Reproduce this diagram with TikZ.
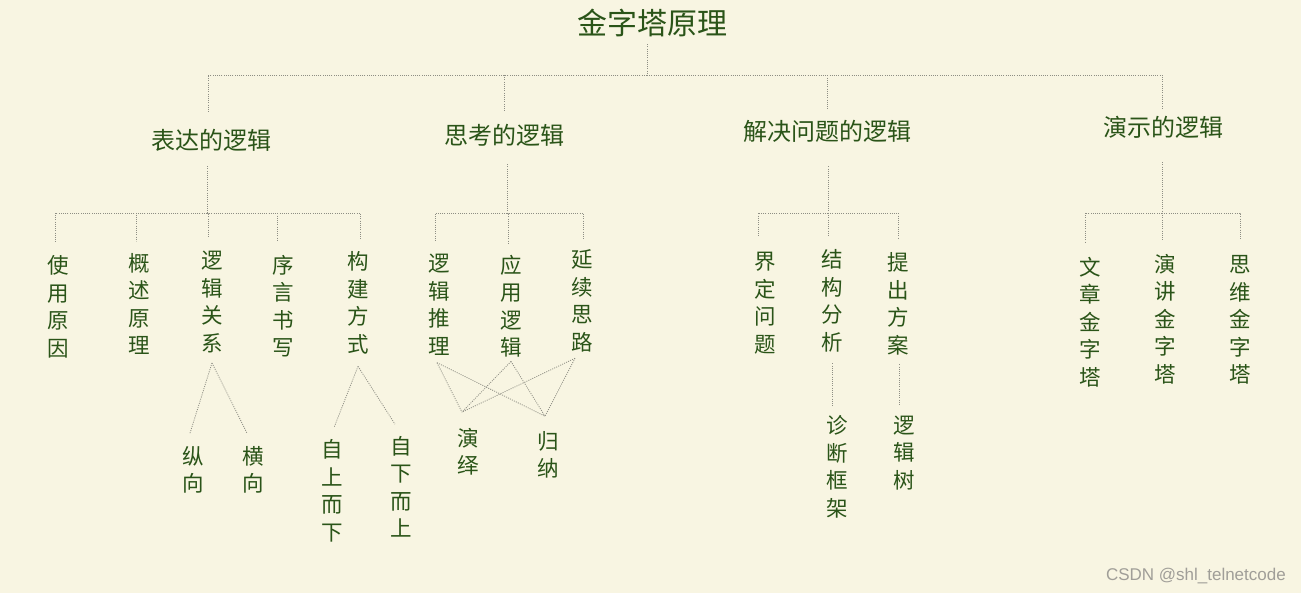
\documentclass[tikz,border=0pt]{standalone}
\usepackage{fontspec}
\newfontfamily\cjk{Noto Sans CJK SC}
\definecolor{bg}{HTML}{F8F5E2}
\definecolor{ink}{HTML}{2A5418}
\definecolor{lk}{HTML}{8E8E84}
\definecolor{wm}{HTML}{A09E98}
\tikzset{
  title/.style={inner sep=0pt, text=ink, font=\cjk\fontsize{30}{32}\selectfont},
  lvone/.style={inner sep=0pt, text=ink, font=\cjk\fontsize{24}{26}\selectfont},
  leaf/.style={inner sep=0pt, text=ink, align=center, font=\cjk\fontsize{21.5}{27.5}\selectfont},
  link/.style={draw=lk, line width=0.8pt, dash pattern=on 1pt off 1.2pt},
}
\begin{document}
\begin{tikzpicture}[x=1pt,y=-1pt]
\fill[bg] (0,0) rectangle (1301,593);
\useasboundingbox (0,0) rectangle (1301,593);

% title
\node[title] (root) at (652,23) {金字塔原理};

% level one
\node[lvone] (A) at (211,140) {表达的逻辑};
\node[lvone] (B) at (504,135) {思考的逻辑};
\node[lvone] (C) at (827,131) {解决问题的逻辑};
\node[lvone] (D) at (1163,127) {演示的逻辑};

\coordinate (r0) at (647,75);
\draw[link] ([yshift=-7pt]root.south -| r0) -- (r0);
\draw[link] (r0) -| ([xshift=-3pt,yshift=16pt]A.north);
\draw[link] (r0) -| ([yshift=12pt]B.north);
\draw[link] (r0) -| ([yshift=11pt]C.north);
\draw[link] (r0) -| ([xshift=-1pt,yshift=7pt]D.north);

% leaves of A
\node[leaf] (A1) at (58,307) {使\\用\\原\\因};
\node[leaf] (A2) at (139,304) {概\\述\\原\\理};
\node[leaf] (A3) at (212,302) {逻\\辑\\关\\系};
\node[leaf] (A4) at (283,306) {序\\言\\书\\写};
\node[leaf] (A5) at (358,303) {构\\建\\方\\式};
\node[leaf] (A31) at (193,470) {纵\\向};
\node[leaf] (A32) at (253,470) {横\\向};
\node[leaf] (A51) at (332,491) {自\\上\\而\\下};
\node[leaf] (A52) at (401,487) {自\\下\\而\\上};

\coordinate (a0) at (207,213);
\draw[link] ([yshift=-15pt]A.south -| a0) -- (a0);
\draw[link] (a0) -| ([xshift=-3pt,yshift=13pt]A1.north);
\draw[link] (a0) -| ([xshift=-3pt,yshift=12pt]A2.north);
\draw[link] (a0) -| ([xshift=-4pt,yshift=13pt]A3.north);
\draw[link] (a0) -| ([xshift=-6pt,yshift=13pt]A4.north);
\draw[link] (a0) -| ([xshift=2pt,yshift=12pt]A5.north);
\draw[link] ([yshift=-10pt]A3.south) -- ([xshift=-3pt,yshift=13pt]A31.north);
\draw[link] ([yshift=-10pt]A3.south) -- ([xshift=-6pt,yshift=13pt]A32.north);
\draw[link] ([yshift=-12pt]A5.south) -- ([xshift=2pt,yshift=12pt]A51.north);
\draw[link] ([yshift=-12pt]A5.south) -- ([xshift=-6pt,yshift=12pt]A52.north);

% leaves of B
\node[leaf] (B1) at (439,305) {逻\\辑\\推\\理};
\node[leaf] (B2) at (511,306) {应\\用\\逻\\辑};
\node[leaf] (B3) at (582,301) {延\\续\\思\\路};
\node[leaf] (B11) at (468,452) {演\\绎};
\node[leaf] (B12) at (548,455) {归\\纳};

\coordinate (b0) at (507,213);
\draw[link] ([yshift=-18pt]B.south -| b0) -- (b0);
\draw[link] (b0) -| ([xshift=-4pt,yshift=13pt]B1.north);
\draw[link] (b0) -| ([xshift=-3pt,yshift=11pt]B2.north);
\draw[link] (b0) -| ([xshift=1pt,yshift=10pt]B3.north);
\draw[link] ([xshift=-2pt,yshift=-7pt]B1.south) -- ([xshift=-6pt,yshift=16pt]B11.north);
\draw[link] ([xshift=-2pt,yshift=-7pt]B1.south) -- ([xshift=-3pt,yshift=15pt]B12.north);
\draw[link] ([yshift=-4pt]B2.south) -- ([xshift=-6pt,yshift=16pt]B11.north);
\draw[link] ([yshift=-4pt]B2.south) -- ([xshift=-3pt,yshift=15pt]B12.north);
\draw[link] ([xshift=-7pt,yshift=-6pt]B3.south) -- ([xshift=-6pt,yshift=16pt]B11.north);
\draw[link] ([xshift=-7pt,yshift=-6pt]B3.south) -- ([xshift=-3pt,yshift=15pt]B12.north);

% leaves of C
\node[leaf] (C1) at (765,303) {界\\定\\问\\题};
\node[leaf] (C2) at (832,301) {结\\构\\分\\析};
\node[leaf] (C3) at (898,304) {提\\出\\方\\案};
\node[leaf] (C21) at (837,467) {诊\\断\\框\\架};
\node[leaf] (C31) at (904,453) {逻\\辑\\树};

\coordinate (c0) at (828,213);
\draw[link] ([yshift=-24pt]C.south -| c0) -- (c0);
\draw[link] (c0) -| ([xshift=-7pt,yshift=15pt]C1.north);
\draw[link] (c0) -| ([xshift=-4pt,yshift=14pt]C2.north);
\draw[link] (c0) -| ([yshift=14pt]C3.north);
\draw[link] ([yshift=-11pt]C2.south) -- ([xshift=-5pt,yshift=9pt]C21.north);
\draw[link] ([xshift=1pt,yshift=-9pt]C3.south) -- ([xshift=-5pt,yshift=10pt]C31.north);

% leaves of D
\node[leaf] (D1) at (1090,322) {文\\章\\金\\字\\塔};
\node[leaf] (D2) at (1165,319) {演\\讲\\金\\字\\塔};
\node[leaf] (D3) at (1240,320) {思\\维\\金\\字\\塔};

\coordinate (d0) at (1162,213);
\draw[link] ([yshift=-24pt]D.south -| d0) -- (d0);
\draw[link] (d0) -| ([xshift=-5pt,yshift=14pt]D1.north);
\draw[link] (d0) -| ([xshift=-3pt,yshift=13pt]D2.north);
\draw[link] (d0) -| ([yshift=16pt]D3.north);

% watermark
\node[inner sep=0pt, text=wm, font=\fontspec{Liberation Sans}\fontsize{17}{18}\selectfont, anchor=east] (wmk) at (1286,576) {CSDN @shl\_telnetcode};
\end{tikzpicture}
\end{document}
